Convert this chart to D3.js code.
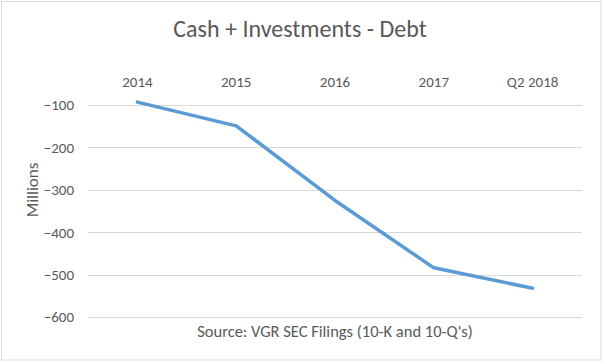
<!DOCTYPE html>
<html><head><meta charset="utf-8">
<script src="https://cdn.jsdelivr.net/npm/d3@7"></script>
<style>
body{margin:0;background:#fff;}
text{font-family:Carlito,Lato,"Open Sans",sans-serif;fill:#595959;}
</style></head>
<body><svg id="c" width="604" height="362"></svg>
<script>
const categories = ["2014","2015","2016","2017","Q2 2018"];
const values = [-93, -149, -325, -484, -532];
const yTicks = [-100,-200,-300,-400,-500,-600];
const title = "Cash + Investments - Debt";
const yTitle = "Millions";
const xTitle = "Source: VGR SEC Filings (10-K and 10-Q's)";

const svg = d3.select("#c");
svg.append("rect").attr("x",1.5).attr("y",1.5).attr("width",599.5).attr("height",358.5)
  .attr("fill","#fff").attr("stroke","#d9d9d9");

const x = d3.scaleBand().domain(categories).range([88,582]);
const y = d3.scaleLinear().domain([-600,0]).range([317,62.7]);

const g = svg.append("g");
g.selectAll("line.grid").data(yTicks).enter().append("line")
  .attr("x1",88).attr("x2",582).attr("y1",d=>Math.round(y(d))+0.5).attr("y2",d=>Math.round(y(d))+0.5)
  .attr("stroke","#d9d9d9").attr("stroke-width",1);

const yAxis = d3.axisLeft(y).tickValues(yTicks).tickSize(0).tickPadding(14);
const ya = svg.append("g").attr("transform","translate(88,0)").call(yAxis);
ya.select(".domain").remove();
ya.selectAll("text").style("font-size","15px").attr("fill","#595959");

const xAxis = d3.axisTop(x).tickSize(0).tickPadding(0);
const xa = svg.append("g").attr("transform","translate(0,87)").call(xAxis);
xa.select(".domain").remove();
xa.selectAll("text").style("font-size","15px").attr("fill","#595959");

const line = d3.line().x((d,i)=>x(categories[i])+x.bandwidth()/2).y(d=>y(d));
svg.append("path").datum(values).attr("d",line).attr("fill","none")
  .attr("stroke","#5b9bd5").attr("stroke-width",3.5).attr("stroke-linecap","round").attr("stroke-linejoin","round");

svg.append("text").attr("x",300).attr("y",37).attr("text-anchor","middle").style("font-size","24px").text(title);
svg.append("text").attr("transform","translate(38,190) rotate(-90)").attr("text-anchor","middle").style("font-size","17px").text(yTitle);
svg.append("text").attr("x",335).attr("y",337).attr("text-anchor","middle").style("font-size","16.5px").text(xTitle);
</script></body></html>
